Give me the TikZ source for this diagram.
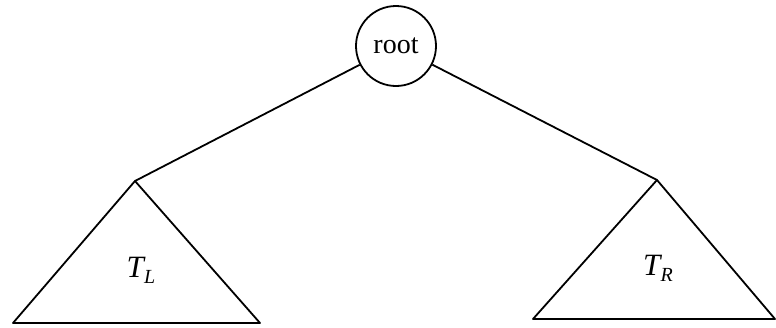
\documentclass[tikz,border=0pt]{standalone}
\usepackage{fontspec}
\setmainfont{Liberation Serif}
\newcommand{\subtree}[2]{\textit{#1}\kern-1.5pt\raisebox{-6pt}{\fontsize{20}{22}\selectfont\textit{#2}}}
\begin{document}
\begin{tikzpicture}[x=1pt,y=-1pt,line width=1.8pt,line join=round,
  treenode/.style={circle,draw,minimum size=80pt,inner sep=0pt,font=\fontsize{28}{30}\selectfont},
  sublabel/.style={font=\fontsize{31}{34}\selectfont}]
\useasboundingbox (0,0) rectangle (776,327);
\node[treenode] (root) at (396,46) {root};
\coordinate (la) at (135,181);
\coordinate (ll) at (13,323);
\coordinate (lr) at (260,323);
\coordinate (ra) at (657,180);
\coordinate (rl) at (533,319);
\coordinate (rr) at (775,319);
\draw (root) -- (la);
\draw (root) -- (ra);
\draw (la) -- (ll) -- (lr) -- cycle;
\draw (ra) -- (rl) -- (rr) -- cycle;
\node[sublabel] (tl) at (141,270) {\subtree{T}{L}};
\node[sublabel] (tr) at (658,268) {\subtree{T}{R}};
\end{tikzpicture}
\end{document}
